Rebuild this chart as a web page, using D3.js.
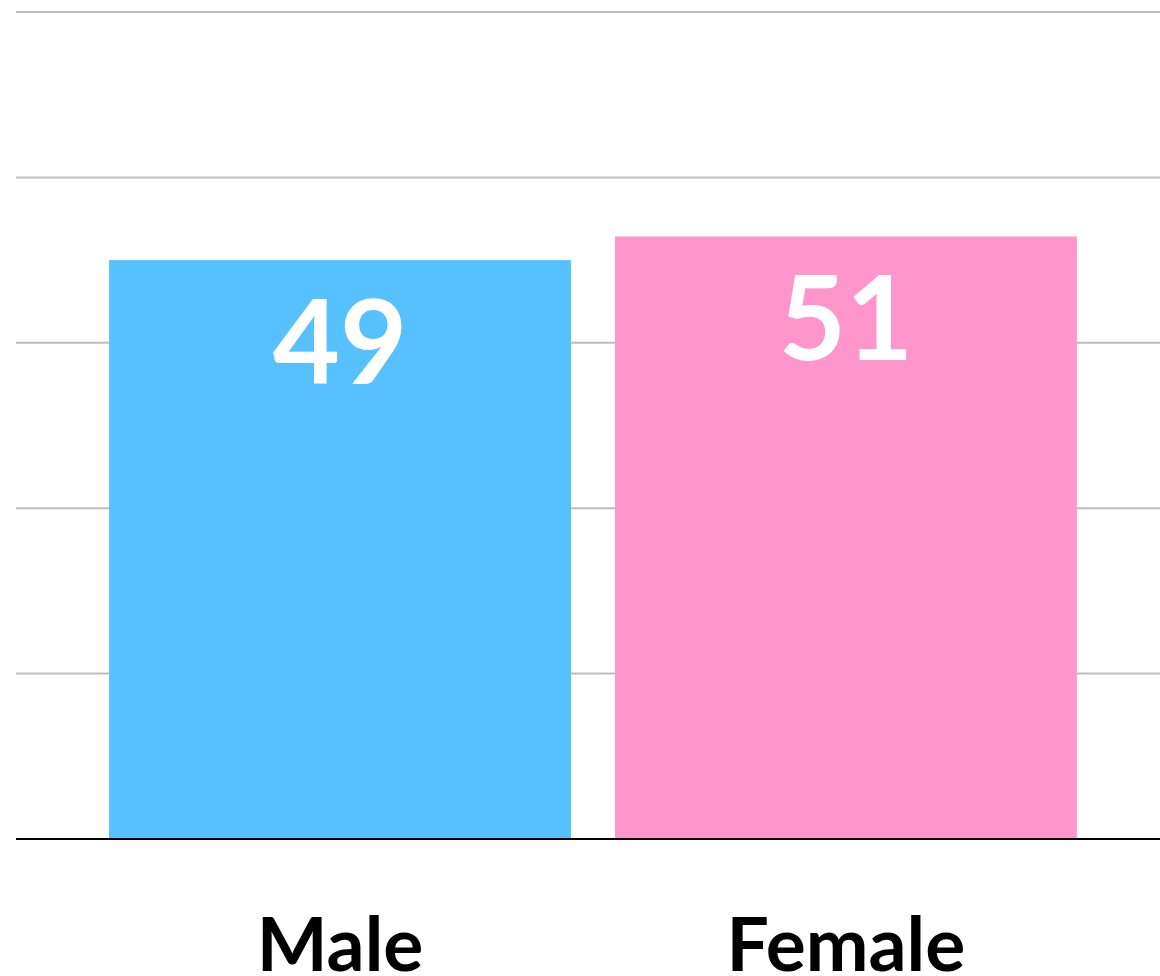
<!DOCTYPE html>
<html>
<head>
<meta charset="utf-8">
<script src="https://cdn.jsdelivr.net/npm/d3@7.9.0/dist/d3.min.js"></script>
<style>
  html, body { margin: 0; padding: 0; background: #fff; }
  svg { display: block; }
  text { font-family: Lato, "Open Sans", sans-serif; font-weight: 700; }
</style>
</head>
<body>
<svg width="1160" height="976"></svg>
<script>
// chart data
const categories = ['Male', 'Female'];
const values = [49, 51];
const colors = ['#57c1ff', '#ff96cb'];
const yTicks = [0, 14, 28, 42, 56, 70];

const width = 1160;
const marginLeft = 16, baseY = 839, topY = 12;

let svg = d3.select('svg');

let x = d3.scaleBand()
  .domain(categories)
  .range([marginLeft, 1170])
  .paddingInner(0.087)
  .paddingOuter(0.184);

let y = d3.scaleLinear()
  .domain([0, 70])
  .range([baseY, topY]);

// gridlines (skip the zero line, that's the black baseline)
svg.append('g')
  .selectAll('line')
  .data(yTicks.filter(d => d > 0))
  .join('line')
  .attr('x1', marginLeft)
  .attr('x2', width)
  .attr('y1', d => y(d))
  .attr('y2', d => y(d))
  .attr('stroke', '#bdbdbd')
  .attr('stroke-width', 2);

let data = categories.map((c, i) => ({ label: c, value: values[i], color: colors[i] }));

svg.append('g')
  .selectAll('rect')
  .data(data)
  .join('rect')
  .attr('x', d => x(d.label))
  .attr('y', d => y(d.value))
  .attr('width', x.bandwidth())
  .attr('height', d => y(0) - y(d.value))
  .attr('fill', d => d.color);

// value labels inside the bars
svg.append('g')
  .selectAll('text')
  .data(data)
  .join('text')
  .attr('x', d => x(d.label) + x.bandwidth() / 2)
  .attr('y', d => y(d.value) + 124)
  .attr('text-anchor', 'middle')
  .attr('fill', '#fff')
  .attr('font-size', 116)
  .text(d => d.value);

// baseline
svg.append('line')
  .attr('x1', marginLeft)
  .attr('x2', width)
  .attr('y1', y(0))
  .attr('y2', y(0))
  .attr('stroke', '#000')
  .attr('stroke-width', 2);

// category labels
svg.append('g')
  .selectAll('text')
  .data(data)
  .join('text')
  .attr('x', d => x(d.label) + x.bandwidth() / 2)
  .attr('y', 971)
  .attr('text-anchor', 'middle')
  .attr('fill', '#000')
  .attr('font-size', 75)
  .text(d => d.label);
</script>
</body>
</html>
